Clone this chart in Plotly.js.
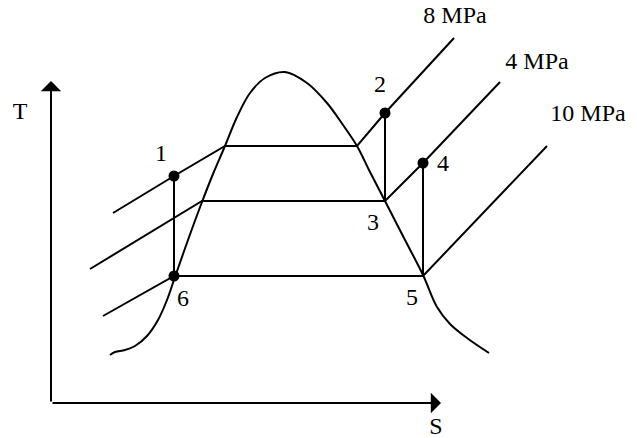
<!DOCTYPE html>
<html>
<head>
<meta charset="utf-8">
<script src="https://cdn.plot.ly/plotly-3.0.1.min.js"></script>
<style>html,body{margin:0;padding:0;background:#fff}#chart{width:637px;height:438px}</style>
</head>
<body>
<div id="chart"></div>
<script>
// Saturation dome (schematic S, T units)
var domeS = [110,115,125,135,147,158,167,175,188,202,213,225,237,250,265,285,307,327,343,357,370,385,404,423,437,450,467,489];
var domeT = [83,86,88,92,102,118,138,161,198,236,264,292,321,345,360,366,355,335,313,292,266,237,200,163,131,114,100,85];

// Isobars
var p8S = [113,174,225,357,385,454];
var p8T = [225,262,292,292,325,400];
var p4S = [90,202,385,423,500];
var p4T = [169,237,237,275,356];
var p10S = [103,174,423,547];
var p10T = [122,162,162,292];

// Vertical (isentropic) processes
var v16S = [174,174], v16T = [262,162];
var v23S = [385,385], v23T = [325,237];
var v45S = [423,423], v45T = [275,162];

// Marked state points 1, 2, 4, 6
var ptS = [174,385,423,174];
var ptT = [262,325,275,162];

// Labels
var labText = ["1","2","3","4","5","6","8 MPa","4 MPa","10 MPa","T","S"];
var labS = [161,380,373,443,412,183,455,537,588,20,436];
var labT = [283,352,214,273,139,138,421,375,323,325,10];

// Axis arrows: origin and tips
var originS = 51, originT = 35;
var tTipT = 357, sTipS = 441;

var line = {color:'#000', width:2};
var traces = [
  {x:domeS, y:domeT, mode:'lines', line:{color:'#000', width:2, shape:'spline', smoothing:1}},
  {x:p8S, y:p8T, mode:'lines', line:line},
  {x:p4S, y:p4T, mode:'lines', line:line},
  {x:p10S, y:p10T, mode:'lines', line:line},
  {x:v16S, y:v16T, mode:'lines', line:line},
  {x:v23S, y:v23T, mode:'lines', line:line},
  {x:v45S, y:v45T, mode:'lines', line:line},
  {x:ptS, y:ptT, mode:'markers', marker:{color:'#000', size:11}},
  {x:labS, y:labT, mode:'text', text:labText, textposition:'middle center',
   textfont:{family:'"Liberation Serif", "Times New Roman", serif', size:24, color:'#000'}}
];

var annotations = [
  {x:originS, y:tTipT, ax:originS, ay:originT, xref:'x', yref:'y', axref:'x', ayref:'y',
   showarrow:true, arrowhead:1, arrowsize:1.7, arrowwidth:2, arrowcolor:'#000', text:''},
  {x:sTipS, y:originT, ax:originS, ay:originT, xref:'x', yref:'y', axref:'x', ayref:'y',
   showarrow:true, arrowhead:1, arrowsize:1.7, arrowwidth:2, arrowcolor:'#000', text:''}
];

var layout = {
  width:637, height:438,
  margin:{l:0, r:0, t:0, b:0},
  paper_bgcolor:'#fff', plot_bgcolor:'#fff',
  showlegend:false,
  xaxis:{range:[0,637], visible:false, fixedrange:true},
  yaxis:{range:[0,438], visible:false, fixedrange:true},
  annotations:annotations
};

Plotly.newPlot('chart', traces, layout, {staticPlot:true, displayModeBar:false});
</script>
</body>
</html>
